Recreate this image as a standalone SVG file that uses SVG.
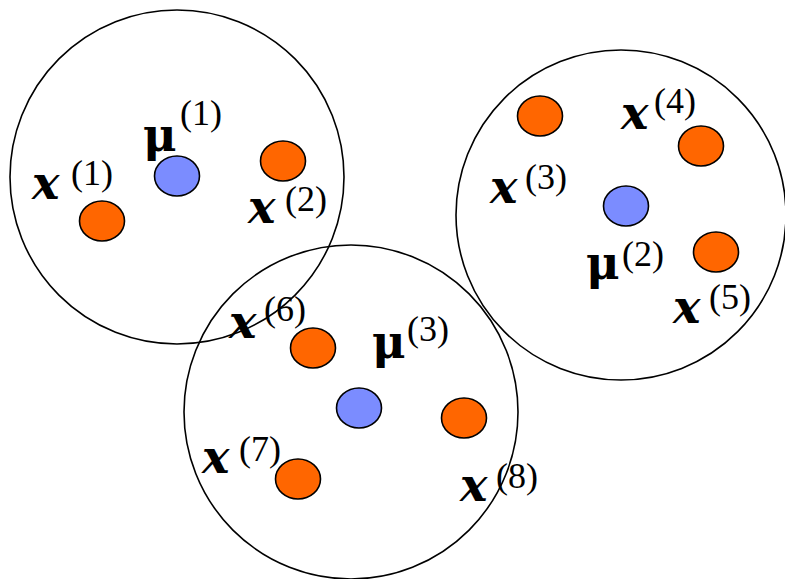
<svg xmlns="http://www.w3.org/2000/svg" width="785" height="579" viewBox="0 0 785 579">
<style>
.ring{fill:none;stroke:#000;stroke-width:1.6}
.pt{fill:#ff6600;stroke:#000;stroke-width:1.6}
.mu{fill:#7b8cff;stroke:#000;stroke-width:1.6}
.v{font-family:'DejaVu Serif',serif;font-weight:bold;font-style:italic;font-size:46px}
.m{font-family:'DejaVu Serif',serif;font-weight:bold;font-size:46px}
.s{font-family:'Liberation Serif','Times New Roman',serif;font-size:36px}
</style>
<rect width="785" height="579" fill="#fff"/>
<g id="cluster1">
<circle class="ring" cx="177" cy="177" r="167"/>
<ellipse class="pt" cx="102" cy="221" rx="22.5" ry="20"/>
<ellipse class="mu" cx="177" cy="176" rx="22.5" ry="20"/>
<ellipse class="pt" cx="283" cy="161" rx="22.5" ry="20"/>
<text x="32" y="199" class="v">x</text><text x="71" y="185" class="s">(1)</text>
<text x="143" y="151" class="m">μ</text><text x="180" y="125" class="s">(1)</text>
<text x="248" y="223" class="v">x</text><text x="285" y="211" class="s">(2)</text>
</g>
<g id="cluster2">
<circle class="ring" cx="621" cy="215" r="165"/>
<ellipse class="pt" cx="540" cy="116" rx="22.5" ry="20"/>
<ellipse class="pt" cx="701" cy="146" rx="22.5" ry="20"/>
<ellipse class="mu" cx="626" cy="206" rx="22.5" ry="20"/>
<ellipse class="pt" cx="716" cy="252" rx="22.5" ry="20"/>
<text x="490" y="203" class="v">x</text><text x="525" y="189" class="s">(3)</text>
<text x="621" y="129" class="v">x</text><text x="654" y="113" class="s">(4)</text>
<text x="586" y="279" class="m">μ</text><text x="622" y="266" class="s">(2)</text>
<text x="673" y="323" class="v">x</text><text x="709" y="309" class="s">(5)</text>
</g>
<g id="cluster3">
<circle class="ring" cx="351" cy="412" r="167"/>
<ellipse class="pt" cx="313" cy="348" rx="22.5" ry="20"/>
<ellipse class="mu" cx="359" cy="408" rx="22.5" ry="20"/>
<ellipse class="pt" cx="464" cy="418" rx="22.5" ry="20"/>
<ellipse class="pt" cx="298" cy="479" rx="22.5" ry="20"/>
<text x="229" y="338" class="v">x</text><text x="264" y="321" class="s">(6)</text>
<text x="372" y="358" class="m">μ</text><text x="407" y="341" class="s">(3)</text>
<text x="202" y="473" class="v">x</text><text x="239" y="461" class="s">(7)</text>
<text x="460" y="501" class="v">x</text><text x="496" y="488" class="s">(8)</text>
</g>
<g id="connectors"></g>
</svg>
